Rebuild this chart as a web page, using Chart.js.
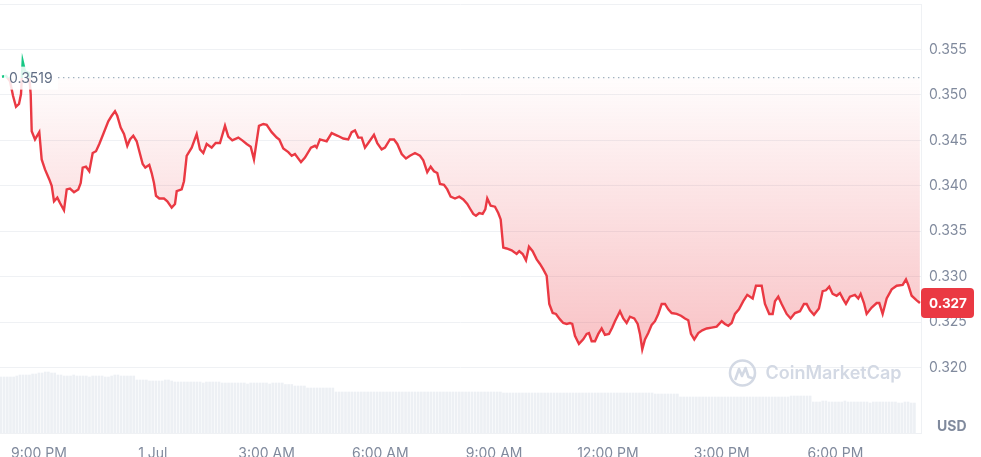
<!DOCTYPE html>
<html>
<head>
<meta charset="utf-8">
<title>Price chart</title>
<script src="https://cdn.jsdelivr.net/npm/chart.js@4.4.1/dist/chart.umd.min.js"></script>
<style>
  html, body { margin: 0; padding: 0; background: #fff; }
  #price-chart { display: block; }
</style>
</head>
<body>
<canvas id="price-chart" width="981" height="457"></canvas>
<script>
// DATA - price line (hours counted from 30 Jun 00:00)
const baselinePrice = 0.3519;

const priceHours = [
  20.025, 20.130, 20.236, 20.315, 20.394, 20.473, 20.526, 20.570, 20.631, 20.737,
  20.781, 20.808, 20.895, 21.008, 21.071, 21.158, 21.272, 21.335, 21.396, 21.483,
  21.554, 21.659, 21.731, 21.817, 21.923, 22.036, 22.100, 22.152, 22.239, 22.326,
  22.416, 22.503, 22.590, 22.695, 22.827, 22.917, 23.004, 23.064, 23.154, 23.241,
  23.328, 23.399, 23.486, 23.576, 23.645, 23.734, 23.803, 23.908, 23.971, 24.032,
  24.085, 24.172, 24.296, 24.383, 24.499, 24.586, 24.631, 24.762, 24.823, 24.894,
  25.026, 25.158, 25.245, 25.332, 25.421, 25.553, 25.659, 25.772, 25.904, 25.991,
  26.096, 26.255, 26.360, 26.476, 26.582, 26.668, 26.800, 26.914, 27.003, 27.135,
  27.267, 27.336, 27.441, 27.573, 27.663, 27.749, 27.908, 28.013, 28.171, 28.277,
  28.321, 28.408, 28.496, 28.585, 28.717, 28.875, 29.023, 29.154, 29.244, 29.331,
  29.418, 29.508, 29.595, 29.682, 29.832, 29.919, 30.035, 30.122, 30.254, 30.360,
  30.447, 30.563, 30.676, 30.781, 30.913, 31.045, 31.132, 31.237, 31.327, 31.414,
  31.501, 31.572, 31.678, 31.765, 31.854, 31.968, 32.081, 32.187, 32.292, 32.363,
  32.450, 32.521, 32.608, 32.698, 32.767, 32.819, 32.909, 33.022, 33.109, 33.173,
  33.241, 33.330, 33.462, 33.594, 33.663, 33.753, 33.840, 33.919, 34.016, 34.122,
  34.209, 34.296, 34.385, 34.454, 34.544, 34.631, 34.736, 34.823, 34.912, 34.999,
  35.060, 35.131, 35.237, 35.350, 35.440, 35.500, 35.572, 35.659, 35.746, 35.835,
  35.922, 36.028, 36.115, 36.186, 36.318, 36.405, 36.494, 36.581, 36.695, 36.785,
  36.845, 36.906, 36.977, 37.064, 37.154, 37.241, 37.328, 37.418, 37.505, 37.592,
  37.681, 37.813, 37.927, 38.032, 38.119, 38.190, 38.277, 38.383, 38.488, 38.604,
  38.736, 38.868, 39.000, 39.087, 39.174, 39.263, 39.350, 39.455, 39.569, 39.674,
  39.817, 39.904, 40.054, 40.141, 40.254, 40.344, 40.405, 40.492, 40.581, 40.713,
  40.818, 40.932, 41.064, 41.169, 41.240, 41.327, 41.433, 41.564, 41.662, 41.749,
  41.836, 41.926, 42.031, 42.118, 42.205, 42.276, 42.381, 42.513, 42.601, 42.664,
  42.751, 42.822, 42.954, 43.086, 43.155, 43.244, 43.350, 43.482, 43.614, 43.772,
  43.859, 43.919, 44.009, 44.141, 44.227
];

const priceValues = [
  0.3520, 0.3521, 0.3515, 0.3499, 0.3487, 0.3490, 0.3501, 0.3537, 0.3526, 0.3524,
  0.3501, 0.3460, 0.3451, 0.3459, 0.3429, 0.3418, 0.3407, 0.3400, 0.3383, 0.3387,
  0.3381, 0.3373, 0.3396, 0.3397, 0.3393, 0.3396, 0.3403, 0.3420, 0.3421, 0.3416,
  0.3436, 0.3438, 0.3446, 0.3457, 0.3471, 0.3477, 0.3482, 0.3477, 0.3464, 0.3457,
  0.3444, 0.3451, 0.3455, 0.3449, 0.3438, 0.3424, 0.3420, 0.3423, 0.3414, 0.3403,
  0.3389, 0.3386, 0.3386, 0.3383, 0.3376, 0.3380, 0.3394, 0.3396, 0.3405, 0.3433,
  0.3442, 0.3457, 0.3440, 0.3436, 0.3446, 0.3442, 0.3447, 0.3447, 0.3466, 0.3454,
  0.3450, 0.3453, 0.3450, 0.3446, 0.3443, 0.3429, 0.3466, 0.3468, 0.3467, 0.3459,
  0.3453, 0.3451, 0.3441, 0.3437, 0.3433, 0.3435, 0.3426, 0.3431, 0.3442, 0.3444,
  0.3442, 0.3451, 0.3450, 0.3449, 0.3458, 0.3455, 0.3452, 0.3451, 0.3459, 0.3461,
  0.3453, 0.3453, 0.3442, 0.3447, 0.3456, 0.3447, 0.3440, 0.3442, 0.3451, 0.3451,
  0.3446, 0.3435, 0.3430, 0.3433, 0.3436, 0.3433, 0.3428, 0.3415, 0.3421, 0.3416,
  0.3414, 0.3402, 0.3401, 0.3396, 0.3388, 0.3386, 0.3388, 0.3385, 0.3380, 0.3375,
  0.3369, 0.3367, 0.3370, 0.3369, 0.3374, 0.3386, 0.3378, 0.3377, 0.3370, 0.3363,
  0.3332, 0.3331, 0.3329, 0.3325, 0.3328, 0.3325, 0.3318, 0.3333, 0.3328, 0.3319,
  0.3314, 0.3308, 0.3301, 0.3270, 0.3260, 0.3259, 0.3253, 0.3249, 0.3248, 0.3249,
  0.3248, 0.3235, 0.3226, 0.3231, 0.3237, 0.3238, 0.3229, 0.3229, 0.3237, 0.3243,
  0.3236, 0.3237, 0.3244, 0.3251, 0.3262, 0.3254, 0.3249, 0.3256, 0.3254, 0.3248,
  0.3237, 0.3220, 0.3231, 0.3238, 0.3247, 0.3251, 0.3259, 0.3270, 0.3270, 0.3264,
  0.3260, 0.3259, 0.3257, 0.3254, 0.3252, 0.3237, 0.3231, 0.3238, 0.3241, 0.3243,
  0.3244, 0.3245, 0.3251, 0.3248, 0.3246, 0.3249, 0.3259, 0.3264, 0.3273, 0.3280,
  0.3276, 0.3290, 0.3290, 0.3270, 0.3259, 0.3259, 0.3273, 0.3278, 0.3270, 0.3259,
  0.3254, 0.3260, 0.3262, 0.3270, 0.3270, 0.3263, 0.3258, 0.3265, 0.3284, 0.3285,
  0.3289, 0.3281, 0.3279, 0.3282, 0.3275, 0.3270, 0.3278, 0.3280, 0.3276, 0.3281,
  0.3271, 0.3259, 0.3266, 0.3271, 0.3271, 0.3259, 0.3276, 0.3286, 0.3290, 0.3291,
  0.3297, 0.3291, 0.3279, 0.3274, 0.3271
];

// Volume bars, one per 5 minutes (millions)
const volumeStartHour = 19.998;
const volumeValues = [
  5.6, 5.6, 5.6, 5.6, 5.6, 5.7, 5.8, 5.8, 5.8, 5.8, 5.9, 5.9, 6.0, 6.0, 6.1, 6.1, 6.0, 6.0, 5.8, 5.8,
  5.7, 5.7, 5.7, 5.8, 5.7, 5.7, 5.7, 5.7, 5.6, 5.7, 5.7, 5.7, 5.7, 5.6, 5.6, 5.7, 5.8, 5.8, 5.7, 5.7,
  5.7, 5.7, 5.7, 5.3, 5.3, 5.3, 5.3, 5.2, 5.2, 5.2, 5.2, 5.2, 5.3, 5.3, 5.2, 5.1, 5.1, 5.1, 5.1, 5.1,
  5.1, 5.1, 5.1, 5.1, 5.0, 5.1, 5.1, 5.1, 5.1, 5.1, 5.0, 5.0, 5.0, 5.0, 5.0, 5.0, 5.0, 5.0, 4.9, 5.0,
  5.0, 5.0, 5.0, 5.0, 5.0, 4.9, 5.0, 5.0, 5.0, 5.0, 4.85, 4.85, 4.85, 4.7, 4.7, 4.7, 4.7, 4.5, 4.5, 4.5,
  4.5, 4.5, 4.5, 4.5, 4.5, 4.5, 4.1, 4.1, 4.1, 4.1, 4.1, 4.1, 4.1, 4.1, 4.1, 4.1, 4.1, 4.1, 4.1, 4.1,
  4.1, 4.1, 4.1, 4.1, 4.1, 4.1, 4.1, 4.1, 4.1, 4.1, 4.1, 4.1, 4.1, 4.1, 4.1, 4.1, 4.1, 4.1, 4.1, 4.1,
  4.1, 4.1, 4.1, 4.1, 4.1, 4.1, 4.1, 4.1, 4.1, 4.1, 4.1, 4.1, 4.1, 4.1, 4.1, 4.1, 4.1, 4.1, 4.1, 4.0,
  4.0, 4.0, 4.0, 4.0, 4.0, 4.0, 4.0, 4.0, 4.0, 4.0, 4.0, 4.0, 4.0, 4.0, 4.0, 4.0, 4.0, 4.0, 4.0, 4.0,
  4.0, 4.0, 4.0, 4.0, 4.0, 4.0, 4.0, 4.0, 4.0, 4.0, 4.0, 4.0, 4.0, 4.0, 4.0, 4.0, 4.0, 4.0, 4.0, 4.0,
  4.0, 4.0, 4.0, 4.0, 4.0, 4.0, 4.0, 3.9, 3.9, 3.9, 3.9, 3.9, 3.9, 3.9, 3.9, 3.6, 3.6, 3.6, 3.6, 3.6,
  3.6, 3.6, 3.6, 3.6, 3.6, 3.6, 3.6, 3.6, 3.6, 3.6, 3.6, 3.6, 3.6, 3.6, 3.6, 3.6, 3.6, 3.6, 3.6, 3.6,
  3.6, 3.6, 3.6, 3.6, 3.6, 3.6, 3.6, 3.6, 3.6, 3.6, 3.7, 3.7, 3.7, 3.7, 3.7, 3.7, 3.7, 3.1, 3.1, 3.1,
  3.2, 3.2, 3.1, 3.1, 3.1, 3.1, 3.1, 3.2, 3.1, 3.1, 3.1, 3.1, 3.1, 3.1, 3.1, 3.0, 3.1, 3.1, 3.1, 3.1,
  3.1, 3.1, 3.1, 3.1, 3.0, 3.0, 3.1, 3.1, 3.0, 3.0
];

// Tick labels
const xTickHours = [21, 24, 27, 30, 33, 36, 39, 42];
const xTickLabels = ['9:00 PM', '1 Jul', '3:00 AM', '6:00 AM', '9:00 AM', '12:00 PM', '3:00 PM', '6:00 PM'];
const yTickValues = [0.320, 0.325, 0.330, 0.335, 0.340, 0.345, 0.350, 0.355, 0.360];

// Colours
const RED = '#ea3943';
const GREEN = '#16c784';
const GRID = '#eff1f4';
const LABEL = '#808a9d';

Chart.defaults.font.family = 'Inter, "Noto Sans", sans-serif';
Chart.defaults.color = LABEL;

// Build {x, y} pairs for the library
const pricePoints = priceHours.map((h, i) => ({ x: h, y: priceValues[i] }));
const volumePoints = volumeValues.map((v, i) => ({ x: volumeStartHour + i * 5 / 60, y: v }));

// Stroke: green above the opening price, red below
function lineStroke(context) {
  const chart = context.chart;
  const area = chart.chartArea;
  if (!area || !chart.scales.y) return RED;
  const yBase = chart.scales.y.getPixelForValue(baselinePrice);
  const stop = Math.min(1, Math.max(0, (yBase - area.top) / (area.bottom - area.top)));
  const g = chart.ctx.createLinearGradient(0, area.top, 0, area.bottom);
  g.addColorStop(0, GREEN);
  g.addColorStop(stop, GREEN);
  g.addColorStop(stop, RED);
  g.addColorStop(1, RED);
  return g;
}

// Fill between the line and the opening price, deeper red lower down
function areaFill(context) {
  const chart = context.chart;
  if (!chart.chartArea || !chart.scales.y) return 'rgba(234,57,67,0.15)';
  const y = chart.scales.y;
  const g = chart.ctx.createLinearGradient(0, y.getPixelForValue(baselinePrice), 0, y.getPixelForValue(0.3225));
  g.addColorStop(0, 'rgba(234,57,67,0.01)');
  g.addColorStop(1, 'rgba(234,57,67,0.30)');
  return g;
}

// Extra drawing: watermark, opening price line + label, last price tag, USD
const cmcOverlay = {
  id: 'cmcOverlay',
  beforeDatasetsDraw(chart) {
    const ctx = chart.ctx;
    const area = chart.chartArea;
    const yBase = chart.scales.y.getPixelForValue(baselinePrice);

    // watermark logo + name
    const cx = area.right - 178.5;
    const cy = area.bottom - 60;
    ctx.save();
    ctx.strokeStyle = '#d3d9e4';
    ctx.lineWidth = 2.6;
    ctx.lineJoin = 'round';
    ctx.lineCap = 'round';
    ctx.beginPath();
    ctx.arc(cx, cy, 12.5, 0, Math.PI * 2);
    ctx.stroke();
    ctx.beginPath();
    ctx.moveTo(cx - 7, cy + 6);
    ctx.lineTo(cx - 3.5, cy - 4);
    ctx.lineTo(cx - 0.5, cy + 3);
    ctx.lineTo(cx + 3, cy - 5);
    ctx.lineTo(cx + 6, cy + 4);
    ctx.lineTo(cx + 9.5, cy + 5);
    ctx.stroke();
    ctx.fillStyle = '#d3d9e4';
    ctx.font = '600 18px Inter, "Noto Sans", sans-serif';
    ctx.textBaseline = 'middle';
    ctx.fillText('CoinMarketCap', cx + 23, cy + 1);

    // dotted opening-price line
    ctx.strokeStyle = '#a7b1c2';
    ctx.lineWidth = 1.2;
    ctx.lineCap = 'butt';
    ctx.setLineDash([1.4, 3.6]);
    ctx.beginPath();
    ctx.moveTo(area.left + 58, yBase);
    ctx.lineTo(area.right, yBase);
    ctx.stroke();
    ctx.restore();
  },
  afterDatasetsDraw(chart) {
    const ctx = chart.ctx;
    const area = chart.chartArea;
    const yBase = chart.scales.y.getPixelForValue(baselinePrice);
    ctx.save();
    ctx.fillStyle = 'rgba(255,255,255,0.85)';
    ctx.fillRect(area.left + 4, yBase - 11, 54, 23);
    ctx.fillStyle = '#616e85';
    ctx.font = '14px Inter, "Noto Sans", sans-serif';
    ctx.textBaseline = 'middle';
    ctx.fillText(baselinePrice.toFixed(4), area.left + 9, yBase + 1.5);
    ctx.restore();
  },
  afterDraw(chart) {
    const ctx = chart.ctx;
    const area = chart.chartArea;
    const last = priceValues[priceValues.length - 1];
    const yLast = chart.scales.y.getPixelForValue(last);
    ctx.save();
    ctx.fillStyle = RED;
    ctx.beginPath();
    ctx.roundRect(area.right, yLast - 15, 53, 30, 4);
    ctx.fill();
    ctx.fillStyle = '#fff';
    ctx.font = 'bold 13.5px Inter, "Noto Sans", sans-serif';
    ctx.textBaseline = 'middle';
    ctx.fillText(last.toFixed(3), area.right + 8, yLast + 1);

    ctx.fillStyle = LABEL;
    ctx.font = 'bold 14px Inter, "Noto Sans", sans-serif';
    ctx.fillText('USD', area.right + 16, area.bottom - 6);
    ctx.restore();
  }
};

new Chart(document.getElementById('price-chart'), {
  type: 'line',
  data: {
    datasets: [{
      label: 'Price',
      data: pricePoints,
      borderColor: lineStroke,
      backgroundColor: areaFill,
      borderWidth: 2.4,
      pointRadius: 0,
      tension: 0,
      fill: { target: { value: baselinePrice }, above: 'rgba(22,199,132,0.08)' },
      order: 1
    },
    {
      type: 'bar',
      label: 'Volume',
      data: volumePoints,
      yAxisID: 'vol',
      backgroundColor: '#edf0f4',
      barThickness: 2,
      order: 2
    }]
  },
  options: {
    responsive: false,
    devicePixelRatio: 1,
    animation: false,
    layout: { padding: { top: 4, left: 0, right: 0, bottom: 0 } },
    plugins: {
      legend: { display: false },
      tooltip: { enabled: false }
    },
    scales: {
      x: {
        type: 'linear',
        min: 19.972,
        max: 44.255,
        offset: false,
        grid: { display: false },
        border: { display: true, color: GRID },
        afterBuildTicks: scale => { scale.ticks = xTickHours.map(v => ({ value: v })); },
        afterFit: scale => {
          scale.height = 24;
          scale.paddingLeft = 0;
          scale.paddingRight = 0;
        },
        ticks: {
          autoSkip: false,
          maxRotation: 0,
          padding: 4,
          font: { size: 14 },
          callback: v => xTickLabels[xTickHours.indexOf(v)] || ''
        }
      },
      y: {
        position: 'right',
        min: 0.3128,
        max: 0.360,
        grid: { color: GRID, drawTicks: false },
        border: { display: true, color: GRID },
        afterBuildTicks: scale => { scale.ticks = yTickValues.map(v => ({ value: v })); },
        afterFit: scale => {
          scale.width = 60;
          scale.paddingTop = 0;
          scale.paddingBottom = 0;
        },
        ticks: {
          autoSkip: false,
          padding: 8,
          font: { size: 14 },
          callback: v => (v > 0.3575 ? '' : v.toFixed(3))
        }
      },
      vol: {
        type: 'linear',
        axis: 'y',
        display: false,
        min: 0,
        max: 42.9
      }
    }
  },
  plugins: [cmcOverlay]
});
</script>
</body>
</html>
